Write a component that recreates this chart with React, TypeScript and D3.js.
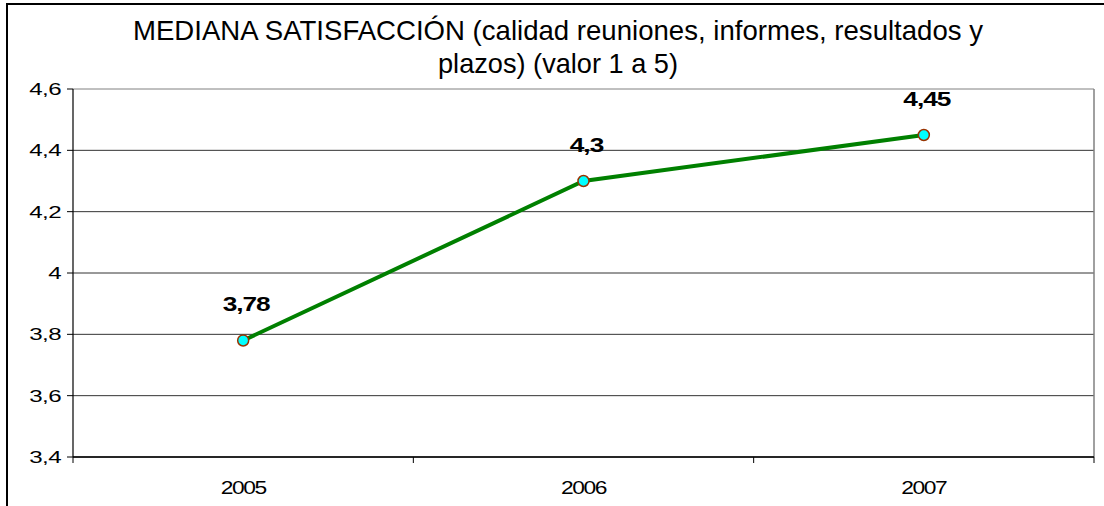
import React from "react";
import * as d3 from "d3";

const categories = ["2005", "2006", "2007"];
const values = [3.78, 4.3, 4.45];
const valueLabels = ["3,78", "4,3", "4,45"];
const yTicks = [3.4, 3.6, 3.8, 4.0, 4.2, 4.4, 4.6];
const yTickLabels = ["3,4", "3,6", "3,8", "4", "4,2", "4,4", "4,6"];
const titleLines = [
  "MEDIANA SATISFACCIÓN (calidad reuniones, informes, resultados y",
  "plazos) (valor 1 a 5)",
];

const W = 1104;
const H = 506;
const left = 73;
const right = 1094;
const top = 89;
const bottom = 457;
const FONT = "'Liberation Sans', Arial, sans-serif";

export default function App() {
  const x = d3.scaleBand<string>().domain(categories).range([left, right]).padding(0);
  const y = d3.scaleLinear().domain([3.4, 4.6]).range([bottom, top]);
  const cx = (c: string) => (x(c) ?? 0) + x.bandwidth() / 2;
  const line = d3
    .line<number>()
    .x((_, i) => cx(categories[i]))
    .y((d) => y(d));
  const bandEdges = categories.map((c) => x(c) ?? 0).concat([right]);

  return (
    <svg
      width={W}
      height={H}
      style={{ position: "absolute", left: 0, top: 0, background: "#fff" }}
      fontFamily={FONT}
    >
      <rect x={0} y={0} width={W} height={H} fill="#fff" />
      {/* outer chart border (cropped) */}
      <rect x={7} y={4} width={W + 20} height={H + 20} fill="none" stroke="#000" strokeWidth={2} />

      {/* title */}
      <text x={558} y={40} textAnchor="middle" fontSize={28} fill="#000" textLength={850} lengthAdjust="spacingAndGlyphs">
        {titleLines[0]}
      </text>
      <text x={558} y={73} textAnchor="middle" fontSize={28} fill="#000" textLength={240} lengthAdjust="spacingAndGlyphs">
        {titleLines[1]}
      </text>

      {/* gridlines */}
      {yTicks.map((t) => (
        <line key={"g" + t} x1={left} x2={right} y1={y(t)} y2={y(t)} stroke={t === 4.6 ? "#808080" : "#333"} strokeWidth={1} />
      ))}
      {/* plot right border */}
      <line x1={right} x2={right} y1={top} y2={bottom} stroke="#808080" strokeWidth={1.5} />

      {/* y axis */}
      <line x1={left} x2={left} y1={top} y2={bottom} stroke="#000" strokeWidth={1.2} />
      {yTicks.map((t, i) => (
        <g key={"yt" + t}>
          <line x1={left - 6} x2={left} y1={y(t)} y2={y(t)} stroke="#000" strokeWidth={1} />
          <text
            transform={`translate(61,${y(t) + 6}) scale(1.42,1)`}
            textAnchor="end"
            fontSize={17}
            fill="#000"
            letterSpacing={-0.4}
          >
            {yTickLabels[i]}
          </text>
        </g>
      ))}

      {/* x axis */}
      <line x1={left} x2={right} y1={bottom} y2={bottom} stroke="#000" strokeWidth={1.5} />
      {bandEdges.map((e, i) => (
        <line key={"xt" + i} x1={e} x2={e} y1={bottom} y2={bottom + 6} stroke="#000" strokeWidth={1} />
      ))}
      {categories.map((c) => (
        <text
          key={"xl" + c}
          transform={`translate(${cx(c)},494) scale(1.2,1)`}
          textAnchor="middle"
          fontSize={19}
          fill="#000"
          letterSpacing={-1.2}
        >
          {c}
        </text>
      ))}

      {/* series */}
      <path d={line(values) ?? ""} fill="none" stroke="#008000" strokeWidth={4} />
      {values.map((v, i) => (
        <circle key={"m" + i} cx={cx(categories[i])} cy={y(v)} r={5.5} fill="#00FFFF" stroke="#993300" strokeWidth={1.5} />
      ))}
      {values.map((v, i) => (
        <text
          key={"l" + i}
          transform={`translate(${cx(categories[i]) + 3},${y(v) - 29}) scale(1.25,1)`}
          textAnchor="middle"
          fontSize={21}
          fontWeight="bold"
          fill="#000"
          letterSpacing={-0.8}
        >
          {valueLabels[i]}
        </text>
      ))}
    </svg>
  );
}
